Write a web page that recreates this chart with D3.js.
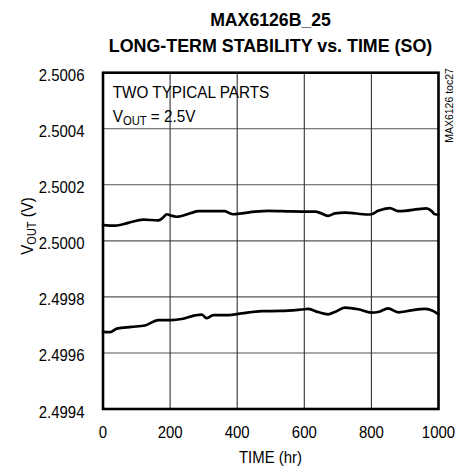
<!DOCTYPE html>
<html><head><meta charset="utf-8">
<script src="https://cdn.jsdelivr.net/npm/d3@7"></script>
<style>html,body{margin:0;padding:0;background:#fff;}svg{display:block;}</style>
</head><body>
<svg id="chart" width="471" height="472"></svg>
<script>
const titleLines = ["MAX6126B_25", "LONG-TERM STABILITY vs. TIME (SO)"];
const xTicks = [0, 200, 400, 600, 800, 1000];
const yTicks = [2.4994, 2.4996, 2.4998, 2.5000, 2.5002, 2.5004, 2.5006];
const yTickLabels = ["2.4994", "2.4996", "2.4998", "2.5000", "2.5002", "2.5004", "2.5006"];

const part1Hours = [0, 36, 75, 120, 165, 180, 190, 200, 219, 264, 284, 319, 363, 373, 388, 413, 453, 493, 560, 632, 651, 671, 691, 721, 790, 800, 820, 855, 880, 900, 939, 964, 979, 989, 1000];
const part1Vout = [2.500056, 2.500054, 2.500064, 2.500076, 2.500073, 2.500084, 2.500095, 2.500091, 2.500086, 2.500100, 2.500106, 2.500106, 2.500106, 2.500101, 2.500095, 2.500098, 2.500104, 2.500107, 2.500105, 2.500104, 2.500098, 2.500089, 2.500098, 2.500101, 2.500094, 2.500095, 2.500107, 2.500117, 2.500106, 2.500107, 2.500113, 2.500116, 2.500107, 2.500095, 2.500094];

const part2Hours = [0, 21, 41, 85, 125, 165, 205, 234, 274, 294, 309, 329, 373, 413, 473, 530, 592, 612, 641, 671, 691, 721, 761, 800, 820, 850, 880, 919, 959, 979, 1000];
const part2Vout = [2.499675, 2.499674, 2.499687, 2.499693, 2.499698, 2.499717, 2.499717, 2.499721, 2.499734, 2.499737, 2.499724, 2.499735, 2.499735, 2.499741, 2.499749, 2.499750, 2.499755, 2.499757, 2.499746, 2.499738, 2.499746, 2.499762, 2.499756, 2.499744, 2.499746, 2.499759, 2.499745, 2.499752, 2.499757, 2.499752, 2.499738];

const svg = d3.select("#chart");
const L = 103, R = 438.5, T = 72.7, B = 409;
const x = d3.scaleLinear().domain([0, 1000]).range([L, R]);
const y = d3.scaleLinear().domain([2.4994, 2.5006]).range([B, T]);
const FONT = "'Liberation Sans', Arial, sans-serif";
const SQ = 0.88;

function txt(g, px, py, s, opts = {}) {
  const t = g.append("text")
    .attr("transform", `translate(${px},${py})${opts.rotate ? " rotate(" + opts.rotate + ")" : ""} scale(${opts.sq ?? SQ},1)`)
    .attr("font-family", FONT)
    .attr("font-size", opts.size ?? 17)
    .attr("font-weight", opts.bold ? "bold" : "normal")
    .attr("text-anchor", opts.anchor ?? "start")
    .attr("fill", "#000");
  if (s !== null) t.text(s);
  return t;
}

// gridlines
svg.append("g").selectAll("line").data(yTicks.slice(1, -1)).join("line")
  .attr("x1", L).attr("x2", R).attr("y1", d => y(d)).attr("y2", d => y(d))
  .attr("stroke", "#555").attr("stroke-width", 1.1);
svg.append("g").selectAll("line").data(xTicks.slice(1, -1)).join("line")
  .attr("y1", T).attr("y2", B).attr("x1", d => x(d)).attr("x2", d => x(d))
  .attr("stroke", "#333").attr("stroke-width", 1.1);

// curves
const line = d3.line().x(d => x(d[0])).y(d => y(d[1])).curve(d3.curveMonotoneX);
[[part1Hours, part1Vout], [part2Hours, part2Vout]].forEach(([h, v]) => {
  svg.append("path").datum(h.map((hh, i) => [hh, v[i]]))
    .attr("d", line).attr("fill", "none").attr("stroke", "#000")
    .attr("stroke-width", 2.7).attr("stroke-linejoin", "round").attr("stroke-linecap", "round");
});

// frame
svg.append("rect").attr("x", L).attr("y", T).attr("width", R - L).attr("height", B - T)
  .attr("fill", "none").attr("stroke", "#000").attr("stroke-width", 2.6);

// titles
txt(svg, 270.5, 26, titleLines[0], {bold: true, size: 19, anchor: "middle", sq: 0.93});
txt(svg, 270.5, 52, titleLines[1], {bold: true, size: 19, anchor: "middle", sq: 0.94});

// tick labels
const gy = svg.append("g");
yTicks.forEach((d, i) => txt(gy, 84.5, y(d) + 8.5, yTickLabels[i], {anchor: "end"}));
const gx = svg.append("g");
xTicks.forEach(d => txt(gx, x(d), 438, String(d), {anchor: "middle"}));

// axis titles
txt(svg, 270.5, 463, "TIME (hr)", {anchor: "middle"});
const yt = txt(svg, 32.5, 226, null, {anchor: "middle", rotate: -90});
yt.append("tspan").text("V");
yt.append("tspan").attr("font-size", 12.5).attr("dy", 3.5).text("OUT");
yt.append("tspan").attr("dy", -3.5).text(" (V)");

// annotation
txt(svg, 112.7, 98.3, "TWO TYPICAL PARTS", {sq: 0.9});
const an = txt(svg, 112.7, 121.7, null, {sq: 0.9});
an.append("tspan").text("V");
an.append("tspan").attr("font-size", 12.5).attr("dy", 3.5).text("OUT");
an.append("tspan").attr("dy", -3.5).text(" = 2.5V");

// side code
txt(svg, 453, 105.5, "MAX6126 toc27", {size: 10.5, anchor: "middle", rotate: -90, sq: 1});
</script>
</body></html>
